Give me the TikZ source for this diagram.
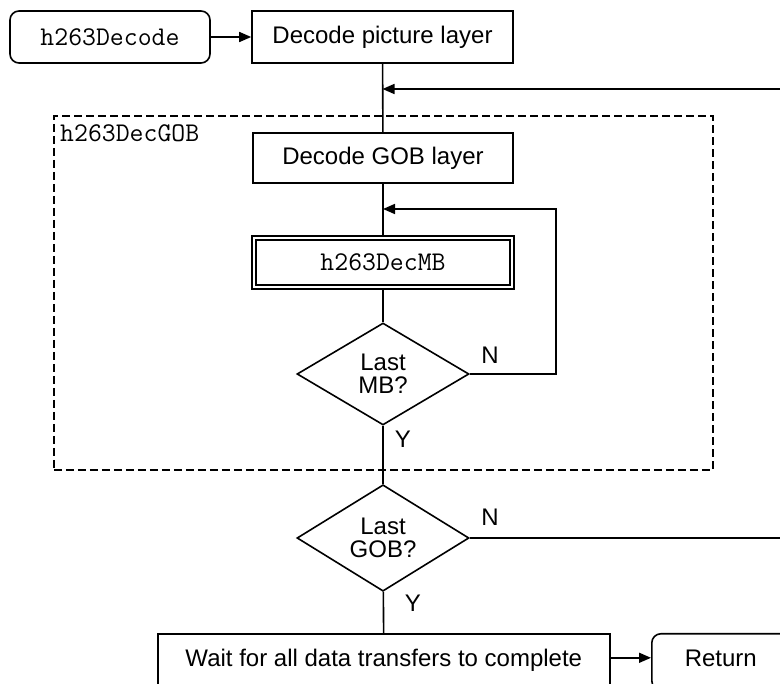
\documentclass[tikz,border=0pt]{standalone}
\usepackage{fontspec}
\setmainfont{Liberation Sans}
\usetikzlibrary{shapes.geometric,arrows.meta}
\begin{document}
\begin{tikzpicture}[x=1pt,y=-1pt,
  every node/.style={font=\fontsize{24}{23}\selectfont, inner sep=0pt},
  flow/.style={line width=1.6pt},
  arr/.style={flow, -{Triangle[length=12pt,width=10pt]}},
  box/.style={draw, line width=1.6pt, rectangle, align=center},
  term/.style={box, rounded corners=9pt},
  decision/.style={draw, line width=1.6pt, diamond, align=center,
                   minimum width=172pt, minimum height=102pt},
  code/.style={font=\fontsize{27}{26}\selectfont\ttfamily},
  frame/.style={draw, line width=1.6pt, dash pattern=on 8pt off 4pt},
  lowtext/.style={text height=18pt, text depth=8.8pt}
]
\useasboundingbox (0,0) rectangle (780,684);
\clip (0,0) rectangle (780,684);

% function frame for the GOB decoder
\node[frame, minimum width=659pt, minimum height=354pt, anchor=north west]
  (gobframe) at (53,115) {};
\node[code, anchor=base west] (gobname) at (60,142) {h263DecGOB};

% blocks
\node[term, code, minimum width=200pt, minimum height=52pt] (dec) at (110,37) {h263Decode};
\node[box, minimum width=261pt, minimum height=52pt] (pic) at (382.5,37) {Decode picture layer};
\node[box, minimum width=260pt, minimum height=50pt] (gob) at (383,158) {Decode GOB layer};
\node[box, code, minimum width=262pt, minimum height=53pt] (mb) at (383,262.5) {h263DecMB};
\draw[line width=1.6pt] ([shift={(5,5)}]mb.north west) rectangle ([shift={(-5,-5)}]mb.south east);
\node[decision] (mbq) at (383,374) {Last\\MB?};
\node[decision] (gobq) at (383,538) {Last\\GOB?};
\node[box, lowtext, minimum width=452pt, minimum height=56pt, anchor=north west]
  (wait) at (157,633) {Wait for all data transfers to complete};
\node[term, lowtext, minimum width=138pt, minimum height=56pt, anchor=north west]
  (ret) at (651,633) {Return};

% free ends at the right margin
\coordinate (picback) at (782,89);
\coordinate (gobback) at (782,538);
\coordinate (mbloop) at (556,209);

% connectors
\draw[arr] (dec) -- (pic);
\draw[flow] (pic) -- (gob);
\draw[arr] (picback) -- (pic.south |- picback);
\draw[flow] (gob) -- (mb);
\draw[flow] (mb) -- (mbq);
\draw[arr] (mbq.east) -| (mbloop) -- (gob.south |- mbloop);
\draw[flow] (mbq) -- (gobq);
\draw[flow] (gobq.east) -- (gobback);
\draw[flow] (gobq) -- (wait);
\draw[arr] ([yshift=4pt]wait.east) -- ([yshift=4pt]ret.west);

% branch labels
\node (nmb) at (490,355) {N};
\node (ymb) at (403,439) {Y};
\node (ngob) at (490,517) {N};
\node (ygob) at (413,603) {Y};
\end{tikzpicture}
\end{document}
